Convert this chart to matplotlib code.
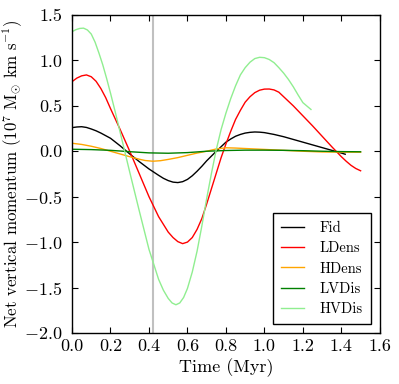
import matplotlib
matplotlib.use("Agg")
import matplotlib.pyplot as plt

plt.rcParams['font.family'] = 'serif'
plt.rcParams['font.serif'] = ['cmr10', 'DejaVu Serif']
plt.rcParams['mathtext.fontset'] = 'cm'
plt.rcParams['axes.formatter.use_mathtext'] = True
plt.rcParams['axes.unicode_minus'] = True

# ---- data ----
t_fid = [0.0, 0.025, 0.05, 0.075, 0.1, 0.125, 0.15, 0.2, 0.25, 0.3, 0.35, 0.4, 0.45, 0.475, 0.5,
         0.525, 0.55, 0.575, 0.6, 0.625, 0.65, 0.675, 0.7, 0.75, 0.8, 0.825, 0.85, 0.875, 0.9,
         0.925, 0.95, 0.975, 1.0, 1.05, 1.1, 1.15, 1.2, 1.25, 1.3, 1.35, 1.4, 1.42]
v_fid = [0.26, 0.267, 0.27, 0.262, 0.245, 0.225, 0.2, 0.143, 0.06, -0.03, -0.115, -0.195, -0.265,
         -0.298, -0.323, -0.34, -0.345, -0.335, -0.31, -0.27, -0.22, -0.165, -0.105, 0.0, 0.1,
         0.135, 0.165, 0.185, 0.2, 0.208, 0.212, 0.21, 0.205, 0.185, 0.16, 0.13, 0.1, 0.07, 0.04,
         0.01, -0.02, -0.033]

t_ldens = [0.0, 0.025, 0.05, 0.075, 0.1, 0.125, 0.15, 0.175, 0.2, 0.25, 0.3, 0.35, 0.4, 0.45,
           0.5, 0.525, 0.55, 0.575, 0.6, 0.625, 0.65, 0.675, 0.7, 0.725, 0.75, 0.775, 0.8, 0.825,
           0.85, 0.875, 0.9, 0.925, 0.95, 0.975, 1.0, 1.025, 1.05, 1.075, 1.1, 1.15, 1.2, 1.25,
           1.3, 1.35, 1.4, 1.425, 1.45, 1.475, 1.5]
v_ldens = [0.766, 0.805, 0.83, 0.84, 0.82, 0.77, 0.69, 0.59, 0.47, 0.24, 0.0, -0.25, -0.5, -0.72,
           -0.89, -0.95, -0.995, -1.017, -1.0, -0.95, -0.86, -0.74, -0.58, -0.41, -0.24, -0.07,
           0.08, 0.22, 0.35, 0.45, 0.54, 0.6, 0.645, 0.672, 0.684, 0.685, 0.675, 0.65, 0.6, 0.5,
           0.39, 0.28, 0.165, 0.05, -0.06, -0.11, -0.155, -0.19, -0.215]

t_hdens = [0.0, 0.05, 0.1, 0.15, 0.2, 0.25, 0.3, 0.35, 0.38, 0.42, 0.46, 0.5, 0.55, 0.6, 0.65,
           0.7, 0.75, 0.8, 0.85, 0.9, 1.0, 1.1, 1.2, 1.3, 1.4, 1.5]
v_hdens = [0.088, 0.075, 0.055, 0.03, 0.0, -0.03, -0.06, -0.088, -0.102, -0.11, -0.104, -0.09,
           -0.07, -0.045, -0.02, 0.0, 0.025, 0.038, 0.035, 0.03, 0.02, 0.01, 0.0, -0.008, -0.01,
           -0.01]

t_lvdis = [0.0, 0.1, 0.2, 0.3, 0.4, 0.5, 0.6, 0.7, 0.8, 0.9, 1.0, 1.1, 1.2, 1.3, 1.4, 1.5]
v_lvdis = [0.022, 0.018, 0.01, -0.005, -0.018, -0.022, -0.015, 0.0, 0.008, 0.012, 0.012, 0.01,
           0.006, 0.0, -0.004, -0.006]

t_hvdis = [0.0, 0.02, 0.04, 0.06, 0.08, 0.1, 0.12, 0.14, 0.16, 0.18, 0.2, 0.225, 0.25, 0.275,
           0.3, 0.35, 0.4, 0.45, 0.475, 0.5, 0.52, 0.54, 0.56, 0.58, 0.6, 0.625, 0.65, 0.675,
           0.7, 0.725, 0.75, 0.775, 0.8, 0.825, 0.85, 0.875, 0.9, 0.925, 0.95, 0.975, 1.0,
           1.025, 1.05, 1.075, 1.1, 1.125, 1.15, 1.175, 1.2, 1.225, 1.242]
v_hvdis = [1.316, 1.338, 1.352, 1.355, 1.335, 1.29, 1.2, 1.08, 0.95, 0.8, 0.64, 0.43, 0.21,
           -0.01, -0.23, -0.66, -1.08, -1.41, -1.53, -1.62, -1.67, -1.69, -1.67, -1.61, -1.51,
           -1.33, -1.1, -0.82, -0.52, -0.24, 0.02, 0.24, 0.42, 0.58, 0.72, 0.84, 0.92, 0.98, 1.02,
           1.034, 1.03, 1.01, 0.975, 0.92, 0.86, 0.79, 0.71, 0.62, 0.535, 0.49, 0.46]

t_marker = 0.42

series = [
    ("Fid", t_fid, v_fid, "black"),
    ("LDens", t_ldens, v_ldens, "red"),
    ("HDens", t_hdens, v_hdens, "orange"),
    ("LVDis", t_lvdis, v_lvdis, "green"),
    ("HVDis", t_hvdis, v_hvdis, "lightgreen"),
]

fig = plt.figure(figsize=(3.99, 3.84), dpi=100)
ax = fig.add_axes([0.1805, 0.133, 0.7715, 0.828])

ax.axvline(t_marker, color="#c0c0c0", lw=1.5, zorder=1)
for name, t, v, c in series:
    ax.plot(t, v, color=c, lw=1.0, label=name, zorder=2)

ax.set_xlim(0.0, 1.6)
ax.set_ylim(-2.0, 1.5)
ax.set_xticks([0.0, 0.2, 0.4, 0.6, 0.8, 1.0, 1.2, 1.4, 1.6])
ax.set_yticks([-2.0, -1.5, -1.0, -0.5, 0.0, 0.5, 1.0, 1.5])
ax.xaxis.set_major_formatter(matplotlib.ticker.FormatStrFormatter('%.1f'))
ax.yaxis.set_major_formatter(matplotlib.ticker.FuncFormatter(
    lambda x, p: ('$-$' if x < 0 else '') + '%.1f' % abs(x)))
ax.tick_params(direction='in', top=True, right=True, length=4, width=0.8,
               labelsize=13)
ax.tick_params(axis='x', pad=4)
ax.tick_params(axis='y', pad=7)
for s in ax.spines.values():
    s.set_linewidth(1.0)

ax.set_xlabel('Time (Myr)', fontsize=13, labelpad=3)
ax.set_ylabel(r'Net vertical momentum ($10^7\ \mathrm{M_{\odot}\ km\ s^{-1}}$)', fontsize=12.2)
ax.yaxis.set_label_coords(-0.152, 0.5)

leg = ax.legend(loc='lower right', fontsize=10.5, fancybox=False, edgecolor='black',
                framealpha=1.0, handlelength=1.6, handletextpad=1.1, labelspacing=0.45,
                borderpad=0.55, borderaxespad=0.6)
leg.get_frame().set_linewidth(1.0)

fig.savefig("out.png", dpi=100)
